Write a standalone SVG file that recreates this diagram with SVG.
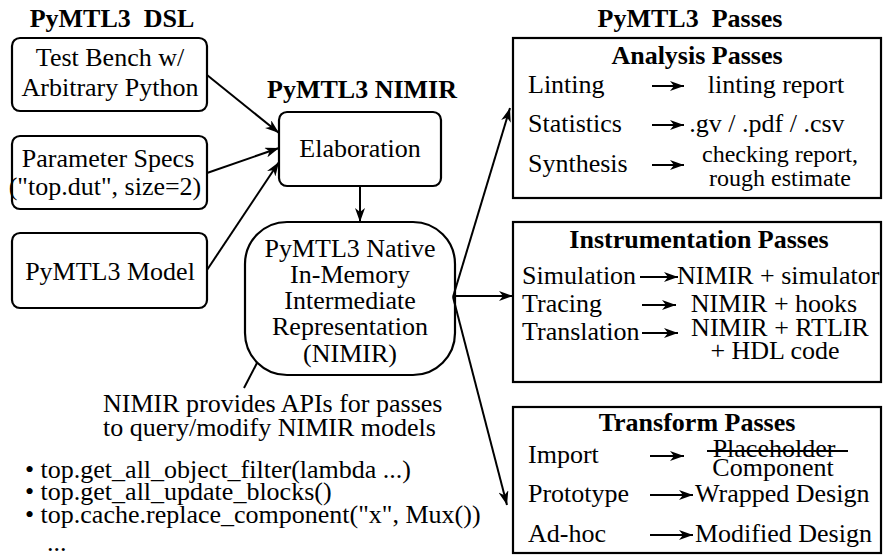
<svg xmlns="http://www.w3.org/2000/svg" width="883" height="557" viewBox="0 0 883 557">
<defs>
<marker id="ah" viewBox="0 0 14 10" refX="14" refY="5" markerWidth="14" markerHeight="10" markerUnits="userSpaceOnUse" orient="auto">
<path d="M0,0 L14,5 L0,10 L4,5 Z" fill="#000"/>
</marker>
<style>
text{font-family:'Liberation Serif','Times New Roman',serif;font-size:26px;fill:#000}
.b{font-weight:bold}
.m{text-anchor:middle}
.s{font-size:24px}
.box{fill:#fff;stroke:#000;stroke-width:2.2}
.c{fill:none;stroke:#000;stroke-width:2;marker-end:url(#ah)}
.pl{fill:none;stroke:#000;stroke-width:2}
</style>
</defs>
<rect width="883" height="557" fill="#fff"/>

<g id="titles">
<text class="b m" x="112" y="27" xml:space="preserve">PyMTL3  DSL</text>
<text class="b m" x="362" y="98">PyMTL3 NIMIR</text>
<text class="b m" x="690" y="27" xml:space="preserve">PyMTL3  Passes</text>
</g>

<g id="testbench">
<rect class="box" x="12" y="38" width="195" height="73" rx="8"/>
<text class="m" x="110" y="66">Test Bench w/</text>
<text class="m" x="110" y="96">Arbitrary Python</text>
</g>
<g id="paramspecs">
<rect class="box" x="12" y="136" width="195" height="73" rx="8"/>
<text class="m" x="108" y="167">Parameter Specs</text>
<text class="m" x="105" y="195">("top.dut", size=2)</text>
</g>
<g id="model">
<rect class="box" x="12" y="233" width="195" height="75" rx="8"/>
<text class="m" x="110" y="280">PyMTL3 Model</text>
</g>

<g id="elaboration">
<rect class="box" x="279" y="112" width="162" height="74" rx="8"/>
<text class="m" x="360" y="157">Elaboration</text>
</g>
<g id="nimir">
<rect class="box" x="245" y="222" width="210" height="153" rx="42"/>
<text class="m" x="350" y="257">PyMTL3 Native</text>
<text class="m" x="350" y="283">In-Memory</text>
<text class="m" x="350" y="309">Intermediate</text>
<text class="m" x="350" y="335">Representation</text>
<text class="m" x="350" y="362">(NIMIR)</text>
</g>

<g id="apinote">
<text x="103" y="412">NIMIR provides APIs for passes</text>
<text x="103" y="436">to query/modify NIMIR models</text>
<text x="25" y="478">• top.get_all_object_filter(lambda ...)</text>
<text x="25" y="500">• top.get_all_update_blocks()</text>
<text x="25" y="523">• top.cache.replace_component("x", Mux())</text>
<text x="47" y="551">...</text>
</g>

<g id="analysis">
<rect class="box" x="513" y="38" width="368" height="160"/>
<text class="b m" x="697" y="64">Analysis Passes</text>
<text x="528" y="93">Linting</text>
<path class="c" d="M652,86 L684,86"/>
<text class="m" x="776" y="93">linting report</text>
<text x="528" y="132">Statistics</text>
<path class="c" d="M652,125 L684,125"/>
<text class="m" x="767" y="132">.gv / .pdf / .csv</text>
<text x="528" y="172">Synthesis</text>
<path class="c" d="M652,165 L684,165"/>
<text class="m s" x="780" y="162">checking report,</text>
<text class="m s" x="780" y="186">rough estimate</text>
</g>

<g id="instrumentation">
<rect class="box" x="513" y="222" width="368" height="160"/>
<text class="b m" x="699" y="248">Instrumentation Passes</text>
<text x="522" y="284">Simulation</text>
<path class="c" d="M640,277 L678,277"/>
<text x="677" y="284">NIMIR + simulator</text>
<text x="522" y="312">Tracing</text>
<path class="c" d="M642,305 L676,305"/>
<text class="m" x="774" y="312">NIMIR + hooks</text>
<text x="522" y="340">Translation</text>
<path class="c" d="M642,333 L678,333"/>
<text class="m" x="780" y="336">NIMIR + RTLIR</text>
<text class="m" x="775" y="359">+ HDL code</text>
</g>

<g id="transform">
<rect class="box" x="513" y="407" width="368" height="146"/>
<text class="b m" x="697" y="431">Transform Passes</text>
<text x="528" y="463">Import</text>
<path class="c" d="M650,456 L684,456"/>
<text class="m" x="774" y="457">Placeholder</text>
<path class="pl" d="M707,451 L848,451"/>
<text class="m" x="773" y="476">Component</text>
<text x="528" y="502">Prototype</text>
<path class="c" d="M650,495 L693,495"/>
<text x="695" y="502">Wrapped Design</text>
<text x="528" y="542">Ad-hoc</text>
<path class="c" d="M650,535 L693,535"/>
<text x="695" y="542">Modified Design</text>
</g>

<g id="connectors">
<path class="c" d="M207,75 L279,133"/>
<path class="c" d="M207,173 L279,148"/>
<path class="c" d="M207,270 L279,162"/>
<path class="c" d="M360,186 L360,222"/>
<path class="c" d="M453,297 L510,108"/>
<path class="c" d="M453,296 L513,296"/>
<path class="c" d="M453,297 L507,505"/>
<path class="pl" d="M257,363 L244,388"/>
</g>
</svg>
